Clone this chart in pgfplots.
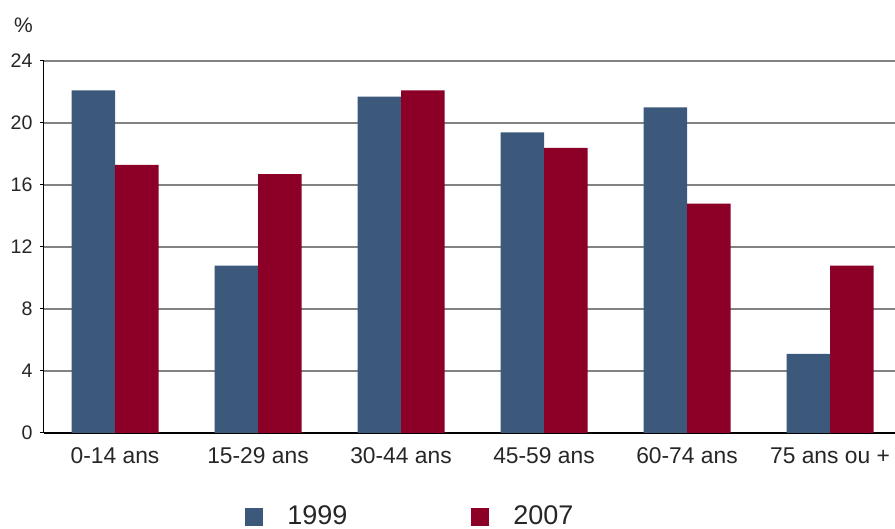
\documentclass[border=0pt]{standalone}
\usepackage{pgfplots}
\pgfplotsset{compat=1.18}
\usepackage{fontspec}
\setmainfont{Liberation Sans}
\definecolor{bleu}{RGB}{60,88,122}
\definecolor{bordeaux}{RGB}{140,0,40}
\definecolor{grille}{RGB}{130,130,130}
\begin{document}
\begin{tikzpicture}
\path[use as bounding box] (-21.75pt,-48pt) rectangle (425.75pt,216.5pt);
\begin{axis}[
  at={(0,0)}, anchor=south west,
  scale only axis, width=429pt, height=186pt,
  xmin=-0.5, xmax=5.5, ymin=0, ymax=24,
  ybar=0pt, bar width=21.75pt,
  axis x line*=bottom, axis y line*=left,
  axis line style={black, line width=0.9pt},
  xtick={0,...,5},
  xticklabels={0-14 ans,15-29 ans,30-44 ans,45-59 ans,60-74 ans,75 ans ou +},
  ytick={0,4,...,24},
  xtick style={draw=none},
  ytick style={black, line width=0.5pt},
  tick align=outside, major tick length=2pt,
  ymajorgrids, major grid style={grille, line width=0.7pt},
  /pgf/number format/assume math mode=true,
  xticklabel style={font=\fontsize{11.4}{13}\selectfont, color=black!85, yshift=-2pt},
  yticklabel style={font=\fontsize{9.8}{11}\selectfont, color=black!85},
  legend image code/.code={\fill[#1] (0pt,-4.5pt) rectangle (9pt,4.5pt);},
  legend columns=2,
  legend style={at={(0.2348,-0.226)}, anchor=west, draw=none, fill=none,
    inner sep=0pt, nodes={inner sep=0pt, font=\fontsize{13.5}{15}\selectfont, text=black!85}},
  /tikz/every odd column/.append style={column sep=12pt},
  /tikz/every even column/.append style={column sep=62pt},
]
\addplot[fill=bleu, draw=none] coordinates {
(0,22.1) (1,10.8) (2,21.7) (3,19.4) (4,21.0) (5,5.1)
};
\addplot[fill=bordeaux, draw=none] coordinates {
(0,17.3) (1,16.7) (2,22.1) (3,18.4) (4,14.8) (5,10.8)
};
\legend{1999,2007}
\end{axis}
\node[font=\fontsize{10.5}{12}\selectfont, text=black!85] at (-10pt,204pt) {\%};
\end{tikzpicture}
\end{document}
